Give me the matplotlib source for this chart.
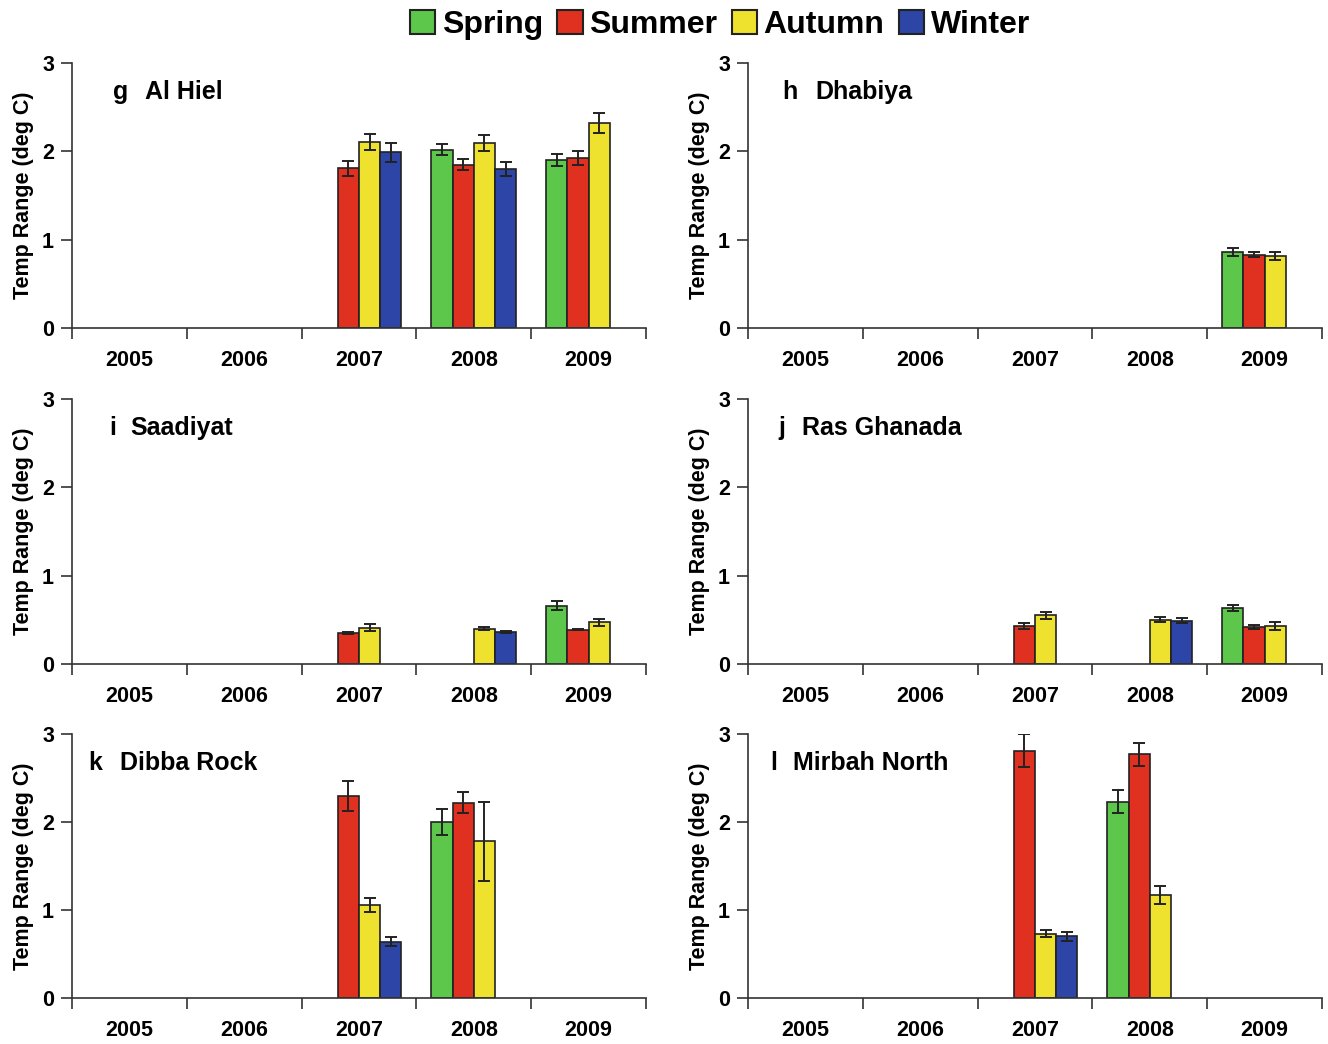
import numpy as np
import matplotlib
matplotlib.use("Agg")
import matplotlib.pyplot as plt
from matplotlib.patches import Patch

plt.rcParams["font.family"] = ["Liberation Sans", "DejaVu Sans"]
plt.rcParams["font.weight"] = "bold"

YEARS = ["2005", "2006", "2007", "2008", "2009"]
SEASONS = ["Spring", "Summer", "Autumn", "Winter"]
COLORS = ["#5cc74a", "#e0301f", "#efe22f", "#2c45a6"]
nan = np.nan

# rows = seasons (Spring, Summer, Autumn, Winter), cols = years 2005-2009
AL_HIEL = [[nan, nan, nan, 2.02, 1.90],
           [nan, nan, 1.81, 1.85, 1.92],
           [nan, nan, 2.11, 2.09, 2.32],
           [nan, nan, 1.99, 1.80, nan]]
AL_HIEL_ERR = [[0, 0, 0, 0.06, 0.07],
               [0, 0, 0.085, 0.06, 0.08],
               [0, 0, 0.09, 0.09, 0.11],
               [0, 0, 0.11, 0.08, 0]]

DHABIYA = [[nan, nan, nan, nan, 0.86],
           [nan, nan, nan, nan, 0.83],
           [nan, nan, nan, nan, 0.82],
           [nan, nan, nan, nan, nan]]
DHABIYA_ERR = [[0, 0, 0, 0, 0.05],
               [0, 0, 0, 0, 0.03],
               [0, 0, 0, 0, 0.045],
               [0, 0, 0, 0, 0]]

SAADIYAT = [[nan, nan, nan, nan, 0.66],
            [nan, nan, 0.35, nan, 0.39],
            [nan, nan, 0.41, 0.40, 0.47],
            [nan, nan, nan, 0.36, nan]]
SAADIYAT_ERR = [[0, 0, 0, 0, 0.05],
                [0, 0, 0.01, 0, 0.01],
                [0, 0, 0.04, 0.02, 0.035],
                [0, 0, 0, 0.01, 0]]

RAS_GHANADA = [[nan, nan, nan, nan, 0.63],
               [nan, nan, 0.43, nan, 0.42],
               [nan, nan, 0.55, 0.50, 0.43],
               [nan, nan, nan, 0.49, nan]]
RAS_GHANADA_ERR = [[0, 0, 0, 0, 0.035],
                   [0, 0, 0.03, 0, 0.025],
                   [0, 0, 0.035, 0.03, 0.045],
                   [0, 0, 0, 0.03, 0]]

DIBBA_ROCK = [[nan, nan, nan, 2.00, nan],
              [nan, nan, 2.30, 2.22, nan],
              [nan, nan, 1.06, 1.78, nan],
              [nan, nan, 0.64, nan, nan]]
DIBBA_ROCK_ERR = [[0, 0, 0, 0.15, 0],
                  [0, 0, 0.17, 0.12, 0],
                  [0, 0, 0.08, 0.45, 0],
                  [0, 0, 0.05, 0, 0]]

MIRBAH_NORTH = [[nan, nan, nan, 2.23, nan],
                [nan, nan, 2.81, 2.77, nan],
                [nan, nan, 0.73, 1.17, nan],
                [nan, nan, 0.70, nan, nan]]
MIRBAH_NORTH_ERR = [[0, 0, 0, 0.13, 0],
                    [0, 0, 0.19, 0.13, 0],
                    [0, 0, 0.04, 0.10, 0],
                    [0, 0, 0.05, 0, 0]]

PANELS = [
    ("g", "Al Hiel", AL_HIEL, AL_HIEL_ERR),
    ("h", "Dhabiya", DHABIYA, DHABIYA_ERR),
    ("i", "Saadiyat", SAADIYAT, SAADIYAT_ERR),
    ("j", "Ras Ghanada", RAS_GHANADA, RAS_GHANADA_ERR),
    ("k", "Dibba Rock", DIBBA_ROCK, DIBBA_ROCK_ERR),
    ("l", "Mirbah North", MIRBAH_NORTH, MIRBAH_NORTH_ERR),
]

W, H = 1328, 1044
fig = plt.figure(figsize=(W / 100, H / 100), dpi=100)

col_x = [72, 748]
row_y = [(63, 328), (399, 664), (734, 998)]
title_pos = [(113, 145), (782, 815), (109, 130), (778, 802), (88, 120), (770, 793)]
bar_w = 0.185

for idx, (letter, name, means, errs) in enumerate(PANELS):
    r, c = divmod(idx, 2)
    top, bot = row_y[r]
    ax = fig.add_axes([col_x[c] / W, 1 - bot / H, 574 / W, (bot - top) / H])
    for k in range(4):
        vals = np.array(means[k], dtype=float)
        err = np.array(errs[k], dtype=float)
        pos = np.arange(5) + 0.5 + (k - 1.5) * bar_w
        ok = ~np.isnan(vals)
        ax.bar(pos[ok], vals[ok], width=bar_w, color=COLORS[k],
               edgecolor="#222222", linewidth=1.2, zorder=2)
        ax.errorbar(pos[ok], vals[ok], yerr=err[ok], fmt="none",
                    ecolor="#222222", elinewidth=1.4, capsize=4, capthick=1.4, zorder=3)
    ax.set_xlim(0, 5)
    ax.set_ylim(0, 3)
    ax.set_yticks([0, 1, 2, 3])
    ax.set_xticks(range(6))
    ax.set_xticklabels([])
    ax.set_xticks(np.arange(5) + 0.5, minor=True)
    ax.set_xticklabels(YEARS, minor=True, fontsize=15.5, fontweight="bold")
    ax.tick_params(axis="x", which="major", direction="out", length=8, width=1.2, color="#333333")
    ax.tick_params(axis="x", which="minor", length=0, pad=16)
    ax.tick_params(axis="y", direction="out", length=8, width=1.2, color="#333333",
                   labelsize=15.5, pad=5)
    for lab in ax.get_yticklabels():
        lab.set_fontweight("bold")
    for s in ["top", "right"]:
        ax.spines[s].set_visible(False)
    for s in ["left", "bottom"]:
        ax.spines[s].set_linewidth(1.2)
        ax.spines[s].set_color("#333333")
    ax.set_ylabel("Temp Range (deg C)", fontsize=15.5, fontweight="bold", labelpad=6)
    ty = 1 - (29 / (bot - top))
    ax.text((title_pos[idx][0] - col_x[c]) / 574, ty, letter, transform=ax.transAxes,
            fontsize=18, fontweight="bold", va="center", ha="left")
    ax.text((title_pos[idx][1] - col_x[c]) / 574, ty, name, transform=ax.transAxes,
            fontsize=18, fontweight="bold", va="center", ha="left")

handles = [Patch(facecolor=COLORS[k], edgecolor="#222222", linewidth=1.5) for k in range(4)]
fig.legend(handles, SEASONS, loc="center", bbox_to_anchor=(720 / W, 1 - 25 / H), ncol=4,
           frameon=False, prop={"size": 23, "weight": "bold"}, handlelength=0.8,
           handleheight=0.8, handletextpad=0.2, columnspacing=0.45)

fig.savefig("out.png", dpi=100)
